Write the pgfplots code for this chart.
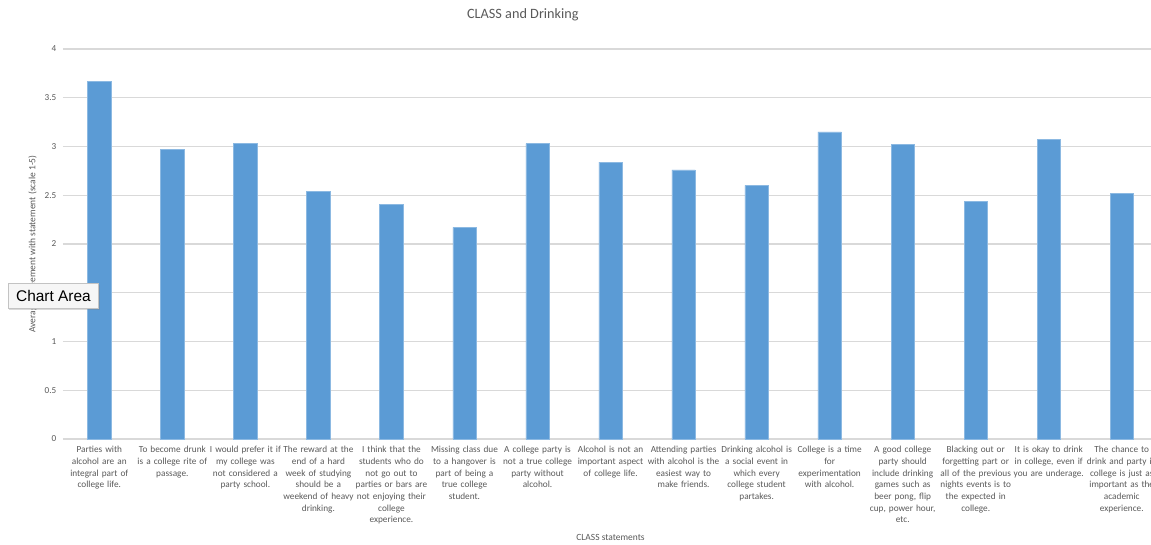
\documentclass[border=0pt]{standalone}
\usepackage{fontspec}
\setmainfont{Carlito}
\newfontfamily\tipfont{Liberation Sans}
\usepackage{pgfplots}
\pgfplotsset{compat=1.18}
\usepackage{pgfplotstable}
\usetikzlibrary{shadows}
\definecolor{barblue}{HTML}{5B9BD5}
\definecolor{txtgrey}{HTML}{595959}
\definecolor{gridgrey}{HTML}{D9D9D9}
\pgfplotstableread{
x y
0 3.67
1 2.97
2 3.03
3 2.54
4 2.41
5 2.17
6 3.03
7 2.84
8 2.76
9 2.60
10 3.15
11 3.02
12 2.44
13 3.07
14 2.52
}\datatable
\begin{document}
\begin{tikzpicture}
\useasboundingbox (-62.8bp,-106bp) rectangle (1088.2bp,439bp);
\clip (-62.8bp,-106bp) rectangle (1088.2bp,439bp);
\begin{axis}[
  at={(0,0)}, anchor=south west,
  scale only axis,
  width=1095.5bp, height=390bp,
  xmin=-0.5, xmax=14.5,
  ymin=0, ymax=4,
  ytick={0,0.5,...,4},
  yticklabels={0,0.5,1,1.5,2,2.5,3,3.5,4},
  xtick={0,...,14},
  xticklabels={
    {Parties with\\alcohol are an\\integral part of\\college life.},
    {To become drunk\\is a college rite of\\passage.},
    {I would prefer it if\\my college was\\not considered a\\party school.},
    {The reward at the\\end of a hard\\week of studying\\should be a\\weekend of heavy\\drinking.},
    {I think that the\\students who do\\not go out to\\parties or bars are\\not enjoying their\\college\\experience.},
    {Missing class due\\to a hangover is\\part of being a\\true college\\student.},
    {A college party is\\not a true college\\party without\\alcohol.},
    {Alcohol is not an\\important aspect\\of college life.},
    {Attending parties\\with alcohol is the\\easiest way to\\make friends.},
    {Drinking alcohol is\\a social event in\\which every\\college student\\partakes.},
    {College is a time\\for\\experimentation\\with alcohol.},
    {A good college\\party should\\include drinking\\games such as\\beer pong, flip\\cup, power hour,\\etc.},
    {Blacking out or\\forgetting part or\\all of the previous\\nights events is to\\the expected in\\college.},
    {It is okay to drink\\in college, even if\\you are underage.},
    {The chance to\\drink and party in\\college is just as\\important as the\\academic\\experience.}
  },
  major tick length=0pt,
  axis line style={draw=none},
  ymajorgrids,
  grid style={gridgrey, line width=1.1bp},
  /pgf/number format/assume math mode=true,
  yticklabel style={font=\fontsize{9.2}{11}\selectfont, text=txtgrey, xshift=-3bp},
  xticklabel style={font=\fontsize{9.3}{11.7}\selectfont, text=txtgrey, text width=80bp, align=center, yshift=-4bp},
  title={CLASS and Drinking},
  title style={at={(axis description cs:0.42,1)}, anchor=center, yshift=28bp, font=\fontsize{14.3}{16}\selectfont, text=txtgrey},
  xlabel={CLASS statements},
  every axis x label/.style={at={(axis description cs:0.5,0)}, yshift=-98bp, anchor=center, font=\fontsize{9.5}{11}\selectfont, text=txtgrey},
  ylabel={Average agreement with statement (scale 1-5)},
  every axis y label/.style={at={(axis description cs:0,0.5)}, xshift=-30bp, rotate=90, anchor=center, font=\fontsize{9.5}{11}\selectfont, text=txtgrey},
]
\addplot[ybar, bar width=23.3bp, fill=barblue, draw=barblue!70!white, line width=0.6bp] table[x=x, y=y] {\datatable};
\end{axis}
\node[draw={rgb,255:red,195;green,195;blue,195}, fill={rgb,255:red,246;green,246;blue,246}, minimum width=90bp, minimum height=25bp, inner sep=0pt, drop shadow={shadow xshift=1bp, shadow yshift=-1.5bp, opacity=0.3}, font=\tipfont\fontsize{15.5}{17}\selectfont] at (-9.3bp,143.2bp) {Chart Area};
\end{tikzpicture}
\end{document}
